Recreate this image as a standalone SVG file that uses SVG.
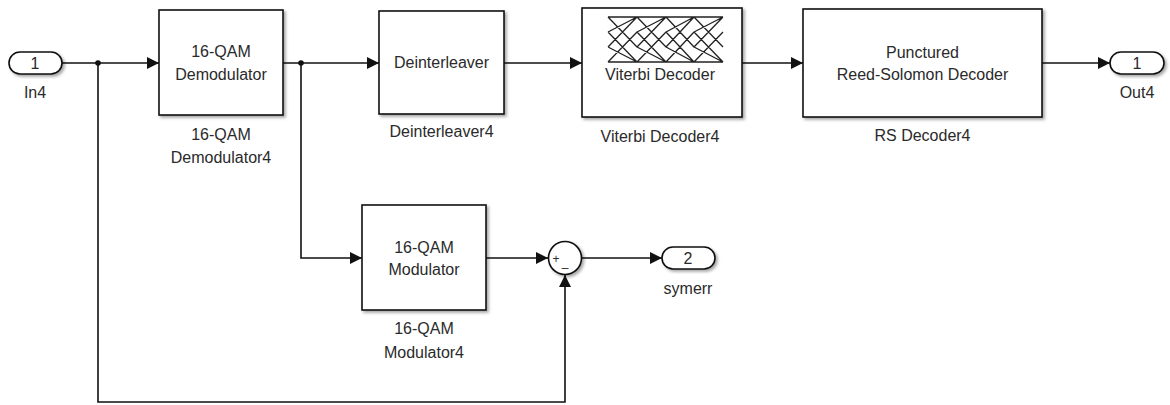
<svg xmlns="http://www.w3.org/2000/svg" width="1170" height="405" viewBox="0 0 1170 405">
<defs>
<style>
.blk{fill:#fff;stroke:#111;stroke-width:1.6;filter:url(#sh)}
.t{font-family:"Liberation Sans",Arial,sans-serif;font-size:16px;fill:#2a2a2a;text-anchor:middle}
.w{fill:none;stroke:#111;stroke-width:1.6}
.tr{fill:none;stroke:#222;stroke-width:1.3}
</style>
<filter id="sh" x="-10%" y="-10%" width="130%" height="130%">
<feDropShadow dx="2" dy="2" stdDeviation="1.5" flood-color="#000" flood-opacity="0.35"/>
</filter>
<marker id="ar" markerUnits="userSpaceOnUse" markerWidth="12" markerHeight="12" refX="12" refY="6" orient="auto">
<path d="M0,0 L12,6 L0,12 z" fill="#111"/>
</marker>
</defs>

<g id="connectors">
<path class="w" d="M62,63 H159" marker-end="url(#ar)"/>
<circle cx="98" cy="63" r="2.8" fill="#111"/>
<path class="w" d="M98,63 V402 H565 V275" marker-end="url(#ar)"/>
<path class="w" d="M283,63 H379" marker-end="url(#ar)"/>
<circle cx="301" cy="63" r="2.8" fill="#111"/>
<path class="w" d="M301,63 V258 H362" marker-end="url(#ar)"/>
<path class="w" d="M504,63 H582" marker-end="url(#ar)"/>
<path class="w" d="M742,63 H803" marker-end="url(#ar)"/>
<path class="w" d="M1042,63 H1110" marker-end="url(#ar)"/>
<path class="w" d="M486,258 H548" marker-end="url(#ar)"/>
<path class="w" d="M582,258 H662" marker-end="url(#ar)"/>
</g>

<g id="in4">
<rect class="blk" x="9" y="52" width="53" height="22" rx="11"/>
<text class="t" x="35" y="69">1</text>
<text class="t" x="35" y="98">In4</text>
</g>

<g id="demod">
<rect class="blk" x="159" y="10" width="124" height="105"/>
<text class="t" x="221" y="57">16-QAM</text>
<text class="t" x="221" y="80">Demodulator</text>
<text class="t" x="221" y="140">16-QAM</text>
<text class="t" x="221" y="163">Demodulator4</text>
</g>

<g id="deint">
<rect class="blk" x="379" y="11" width="125" height="103"/>
<text class="t" x="441.5" y="68">Deinterleaver</text>
<text class="t" x="441.5" y="137">Deinterleaver4</text>
</g>

<g id="viterbi">
<rect class="blk" x="582" y="8" width="160" height="109"/>
<path class="tr" d="M608,17 H723 M608,62 H723
M608,17 L637,47 M608,47 L637,17 M608,32 L637,62 M608,62 L637,32 M608,32 L637,17 M608,47 L637,62
M637,17 L666,47 M637,47 L666,17 M637,32 L666,62 M637,62 L666,32 M637,32 L666,17 M637,47 L666,62
M666,17 L694,47 M666,47 L694,17 M666,32 L694,62 M666,62 L694,32 M666,32 L694,17 M666,47 L694,62
M694,17 L723,47 M694,47 L723,17 M694,32 L723,62 M694,62 L723,32 M694,32 L723,17 M694,47 L723,62"/>
<text class="t" x="660" y="80">Viterbi Decoder</text>
<text class="t" x="660" y="142">Viterbi Decoder4</text>
</g>

<g id="rs">
<rect class="blk" x="803" y="9" width="239" height="108"/>
<text class="t" x="922.5" y="58">Punctured</text>
<text class="t" x="922.5" y="80">Reed-Solomon Decoder</text>
<text class="t" x="922.5" y="141">RS Decoder4</text>
</g>

<g id="out4">
<rect class="blk" x="1110" y="52" width="54" height="22" rx="11"/>
<text class="t" x="1137" y="69">1</text>
<text class="t" x="1137" y="98">Out4</text>
</g>

<g id="mod">
<rect class="blk" x="362" y="205" width="124" height="105"/>
<text class="t" x="424" y="253">16-QAM</text>
<text class="t" x="424" y="275">Modulator</text>
<text class="t" x="424" y="334">16-QAM</text>
<text class="t" x="424" y="358">Modulator4</text>
</g>

<g id="sum">
<circle class="blk" cx="565" cy="258" r="16.5"/>
<text class="t" x="556" y="263" style="font-size:12px">+</text>
<text class="t" x="565" y="266" style="font-size:12px">_</text>
</g>

<g id="symerr">
<rect class="blk" x="662" y="247" width="53" height="22" rx="11"/>
<text class="t" x="688" y="264">2</text>
<text class="t" x="688" y="294">symerr</text>
</g>
</svg>
